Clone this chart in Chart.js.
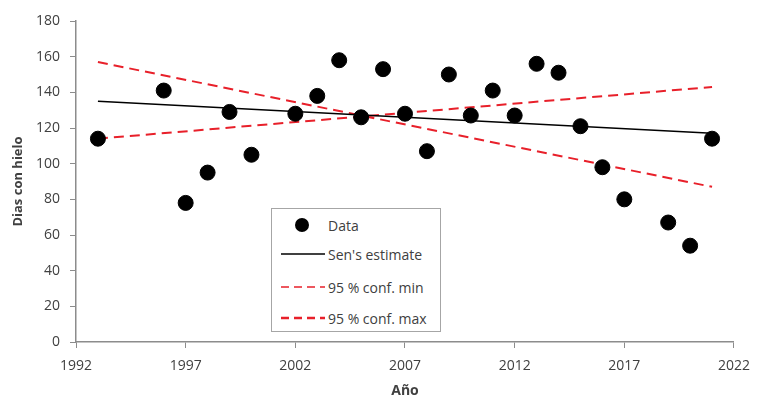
<!DOCTYPE html>
<html>
<head>
<meta charset="utf-8">
<script src="https://cdn.jsdelivr.net/npm/chart.js@4/dist/chart.umd.min.js"></script>
<style>
  body { margin: 0; background: #fff; }
  #wrap { position: relative; width: 760px; height: 396px; }
  #legend {
    position: absolute; left: 271px; top: 208px; width: 170px; height: 124px;
    border: 1px solid #a6a6a6; background: #fff; box-sizing: border-box;
    font-family: "Open Sans", sans-serif; font-size: 14px; color: #404040;
  }
  .row { position: absolute; left: 8px; height: 20px; display: flex; align-items: center; }
  .row svg { width: 45px; height: 20px; margin-right: 3px; }
</style>
</head>
<body>
<div id="wrap">
  <canvas id="myChart" width="760" height="396"></canvas>
  <div id="legend">
    <div class="row" style="top:6px"><svg><circle cx="22" cy="10" r="7" fill="#000"/></svg>Data</div>
    <div class="row" style="top:35px"><svg><line x1="1" y1="10" x2="45" y2="10" stroke="#000" stroke-width="1.5"/></svg>Sen's estimate</div>
    <div class="row" style="top:68px"><svg><line x1="1" y1="10" x2="45" y2="10" stroke="#e8202a" stroke-width="1.5" stroke-dasharray="8,5"/></svg>95 % conf. min</div>
    <div class="row" style="top:99px"><svg><line x1="1" y1="10" x2="45" y2="10" stroke="#e8202a" stroke-width="2.6" stroke-dasharray="8,5"/></svg>95 % conf. max</div>
  </div>
</div>
<script>
const years = [1993, 1996, 1997, 1998, 1999, 2000, 2002, 2003, 2004, 2005, 2006, 2007, 2008,
  2009, 2010, 2011, 2012, 2013, 2014, 2015, 2016, 2017, 2019, 2020, 2021];
const iceDays = [114, 141, 78, 95, 129, 105, 128, 138, 158, 126, 153, 128, 107,
  150, 127, 141, 127, 156, 151, 121, 98, 80, 67, 54, 114];

const lineYears = [1993, 2021];
const senEstimate = [135, 117];
const confMin = [114, 143];
const confMax = [157, 87];

const xTicks = [1992, 1997, 2002, 2007, 2012, 2017, 2022];

const toPoints = (xs, ys) => xs.map((x, i) => ({ x: x, y: ys[i] }));

const textColor = '#404040';
const axisColor = '#8c8c8c';

const data = {
  datasets: [
    {
      label: 'Data',
      type: 'scatter',
      data: toPoints(years, iceDays),
      backgroundColor: '#000',
      borderColor: '#000',
      pointRadius: 7.5,
      showLine: false,
      order: 0
    },
    {
      label: "Sen's estimate",
      type: 'line',
      data: toPoints(lineYears, senEstimate),
      borderColor: '#000',
      borderWidth: 1.5,
      pointRadius: 0,
      order: 1
    },
    {
      label: '95 % conf. min',
      type: 'line',
      data: toPoints(lineYears, confMin),
      borderColor: '#e8202a',
      borderWidth: 2,
      borderDash: [10, 6],
      pointRadius: 0,
      order: 2
    },
    {
      label: '95 % conf. max',
      type: 'line',
      data: toPoints(lineYears, confMax),
      borderColor: '#e8202a',
      borderWidth: 2,
      borderDash: [10, 6],
      pointRadius: 0,
      order: 2
    }
  ]
};

const config = {
  type: 'scatter',
  data: data,
  options: {
    responsive: false,
    animation: false,
    layout: { padding: { top: 21, right: 24, left: 6, bottom: 0 } },
    plugins: {
      legend: { display: false },
      tooltip: { enabled: false }
    },
    scales: {
      x: {
        type: 'linear',
        min: 1992,
        max: 2022,
        afterBuildTicks: (scale) => { scale.ticks = xTicks.map(v => ({ value: v })); },
        afterFit: (scale) => { scale.height = 54; },
        ticks: {
          color: textColor,
          font: { family: 'Open Sans', size: 14 },
          padding: 10,
          maxRotation: 0,
          callback: (v) => String(v)
        },
        grid: { drawOnChartArea: false, color: axisColor, tickLength: 6 },
        border: { color: axisColor, width: 1.5 },
        title: {
          display: true,
          text: 'Año',
          color: textColor,
          font: { family: 'Open Sans', size: 14, weight: 'bold' },
          padding: { top: 6, bottom: -3 }
        }
      },
      y: {
        min: 0,
        max: 180,
        afterFit: (scale) => { scale.width = 70; },
        ticks: {
          stepSize: 20,
          color: textColor,
          font: { family: 'Open Sans', size: 14 },
          padding: 10
        },
        grid: { drawOnChartArea: false, color: axisColor, tickLength: 6 },
        border: { color: axisColor, width: 1.5 },
        title: {
          display: true,
          text: 'Dias con hielo',
          color: textColor,
          font: { family: 'Open Sans', size: 13, weight: 'bold' },
          padding: { bottom: 2 }
        }
      }
    }
  }
};

let ctx = document.getElementById('myChart').getContext('2d');
let chart = new Chart(ctx, config);
</script>
</body>
</html>
